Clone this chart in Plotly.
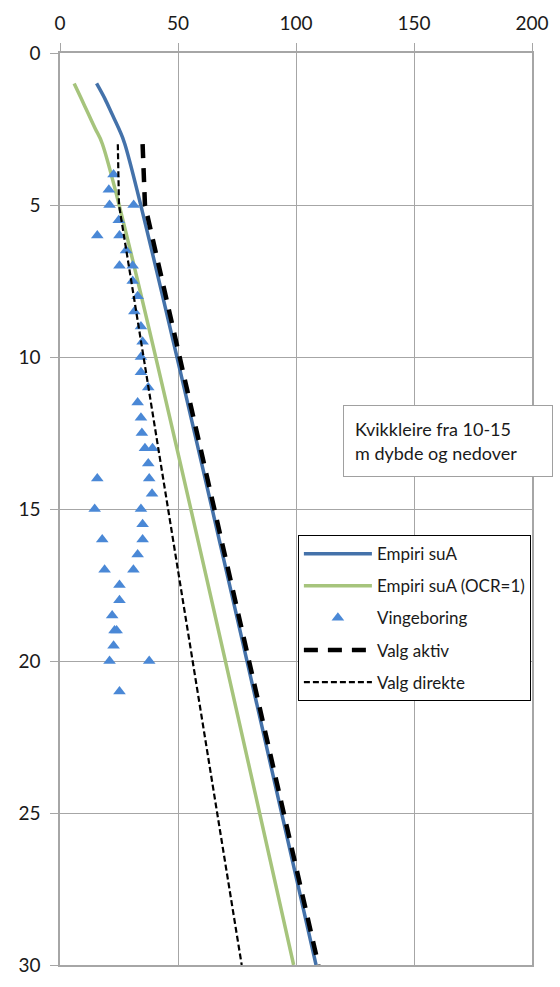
import plotly.graph_objects as go

# Depth (m) and undrained shear strength (kPa) profiles
empiri_depth = [1, 1.5, 2, 2.5, 3, 30]
empiri_sua = [15.5, 19, 22, 25, 27.5, 108.5]

ocr1_depth = [1, 1.5, 2, 2.5, 3, 30]
ocr1_sua = [6, 9, 12, 15, 18, 99]

aktiv_depth = [3, 5, 30]
aktiv_sua = [35, 36, 109.5]

direkte_depth = [3, 5, 30]
direkte_sua = [24.5, 25, 77]

# Vane shear test results
vinge_depth = [4.0, 4.5, 5.0, 5.0, 5.5, 6.0, 6.0, 6.5, 7.0, 7.0, 7.5, 8.0, 8.5, 9.0,
               9.5, 10.0, 10.5, 11.0, 11.5, 12.0, 12.5, 13.0, 13.0, 13.5, 14.0, 14.0,
               14.5, 15.0, 15.0, 15.5, 16.0, 16.0, 16.5, 17.0, 17.0, 17.5, 18.0, 18.5,
               19.0, 19.0, 19.5, 20.0, 20.0, 21.0]
vinge_sua = [22.7, 20.7, 21, 31.2, 24.9, 15.8, 25.2, 28, 25.2, 30.8, 30.8, 32.9, 31.5, 34.3,
             35, 34.3, 34.3, 37.4, 32.9, 34.3, 34.7, 36, 39.2, 37.4, 37.8, 15.8,
             39, 14.7, 34.3, 35, 17.9, 35, 32.9, 18.9, 31.1, 25.2, 25.2, 22.1,
             23.1, 24, 22.7, 21, 37.8, 25.2]

x_ticks = [0, 50, 100, 150, 200]
y_ticks = [0, 5, 10, 15, 20, 25, 30]

FONT = "Lato"
GRID = "#a6a6a6"

fig = go.Figure()
fig.add_trace(go.Scatter(x=empiri_sua, y=empiri_depth, mode="lines", name="Empiri suA",
                         legendgroup="a", line=dict(color="#4472aa", width=3.5, shape="spline")))
fig.add_trace(go.Scatter(x=ocr1_sua, y=ocr1_depth, mode="lines", name="Empiri suA (OCR=1)",
                         legendgroup="b", line=dict(color="#a6c47c", width=3.5, shape="spline")))
fig.add_trace(go.Scatter(x=vinge_sua, y=vinge_depth, mode="markers", name="Vingeboring",
                         legendgroup="c",
                         marker=dict(symbol="triangle-up", size=11, color="#4a88d6")))
fig.add_trace(go.Scatter(x=aktiv_sua, y=aktiv_depth, mode="lines", name="Valg aktiv",
                         legendgroup="d", line=dict(color="black", width=4.5, dash="14px,10px")))
fig.add_trace(go.Scatter(x=direkte_sua, y=direkte_depth, mode="lines", name="Valg direkte",
                         legendgroup="e", line=dict(color="black", width=2.2, dash="6px,3px")))

fig.add_annotation(
    xref="paper", yref="paper", x=0.6, y=0.6138, xanchor="left", yanchor="top",
    text="Kvikkleire fra 10-15<br>m dybde og nedover", showarrow=False, align="left",
    font=dict(family=FONT, size=18, color="#1a1a1a"),
    bordercolor="#a0a0a0", borderwidth=1, borderpad=11, bgcolor="white",
    width=186, height=48,
)

fig.update_layout(
    width=560, height=987,
    margin=dict(l=60, r=24, t=49, b=11),
    paper_bgcolor="white", plot_bgcolor="white",
    font=dict(family=FONT, color="#1a1a1a"),
    showlegend=True,
    legend=dict(
        x=0.504, y=0.4714, xanchor="left", yanchor="top",
        bgcolor="white", bordercolor="black", borderwidth=1,
        font=dict(family=FONT, size=17, color="#1a1a1a"),
        tracegroupgap=7, itemwidth=68,
    ),
    xaxis=dict(
        side="top", range=[0, 200], tickvals=x_ticks,
        showgrid=True, gridcolor=GRID, gridwidth=1.3,
        showline=True, linecolor=GRID, linewidth=1.5, mirror=True,
        ticks="outside", ticklen=8, tickcolor=GRID,
        tickfont=dict(family=FONT, size=19, color="#1a1a1a"),
        zeroline=False, ticklabelstandoff=6,
    ),
    yaxis=dict(
        range=[30, 0], tickvals=y_ticks,
        showgrid=True, gridcolor=GRID, gridwidth=1.3,
        showline=True, linecolor=GRID, linewidth=1.5, mirror=True,
        ticks="outside", ticklen=8, tickcolor=GRID,
        tickfont=dict(family=FONT, size=19, color="#1a1a1a"),
        zeroline=False, ticklabelstandoff=6,
    ),
)

fig.write_html("out.html")
